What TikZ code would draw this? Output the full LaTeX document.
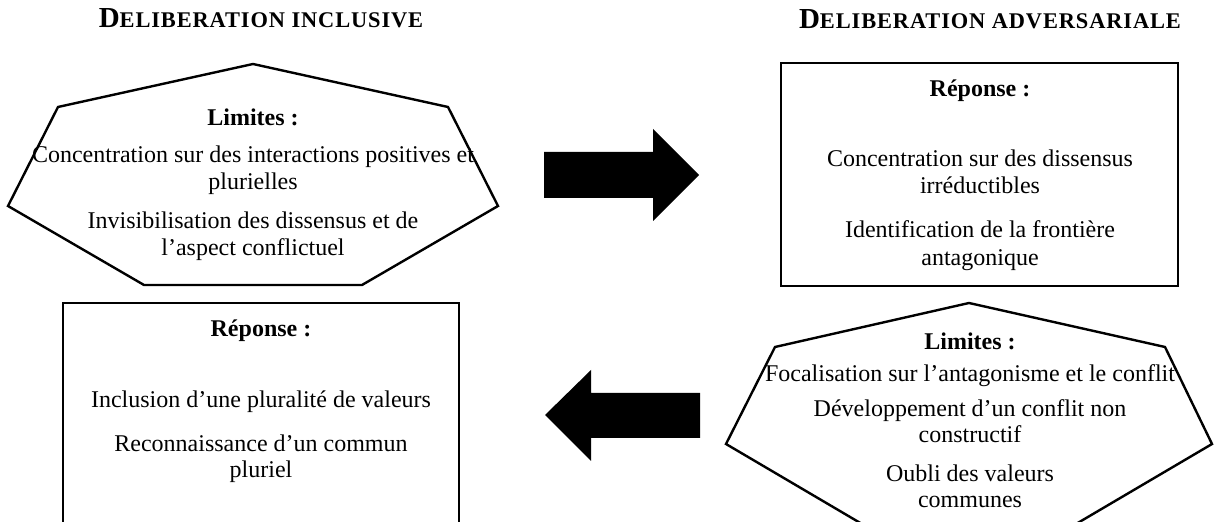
\documentclass[tikz,border=0pt]{standalone}
\usepackage{fontspec}
\setmainfont{Liberation Serif}
\newfontfamily\titlefont[LetterSpace=4]{Liberation Serif}
\begin{document}
\begin{tikzpicture}[x=0.5pt,y=-0.5pt,
  body/.style={anchor=base,inner sep=0pt,font=\fontsize{12}{14}\selectfont},
  head/.style={body,font=\fontsize{12}{14}\selectfont\bfseries},
  ttl/.style={anchor=base,inner sep=0pt,font=\bfseries},
  frame/.style={draw=black,line width=1.2pt,line join=miter},
  bigarrow/.style={fill=black,draw=none}]
\useasboundingbox (0,0) rectangle (1230,522);
\clip (0,0) rectangle (1230,522);

% titles
\node[ttl] (titleL) at (261,28) {{\fontsize{14.5}{16}\selectfont D}{\titlefont\bfseries\fontsize{11.2}{12}\selectfont ELIBERATION INCLUSIVE}};
\node[ttl] (titleR) at (990,29) {{\fontsize{14.5}{16}\selectfont D}{\titlefont\bfseries\fontsize{11.2}{12}\selectfont ELIBERATION ADVERSARIALE}};

% upper-left heptagon
\draw[frame] (253,64) -- (448,107) -- (498,206) -- (362,285) -- (144,285) -- (8,206) -- (58,107) -- cycle;
\node[head] (limL) at (253,126) {Limites :};
\node[body] (l1) at (253,163) {Concentration sur des interactions positives et};
\node[body] (l2) at (253,190) {plurielles};
\node[body] (l3) at (253,229) {Invisibilisation des dissensus et de};
\node[body] (l4) at (253,256) {l’aspect conflictuel};

% upper-right box
\draw[frame] (781,63) rectangle (1178,286);
\node[head] (repR) at (980,97) {Réponse :};
\node[body] (r1) at (980,167) {Concentration sur des dissensus};
\node[body] (r2) at (980,194) {irréductibles};
\node[body] (r3) at (980,238) {Identification de la frontière};
\node[body] (r4) at (980,266) {antagonique};

% lower-left box (cut by the lower edge)
\draw[frame] (63,530) -- (63,303) -- (459,303) -- (459,530);
\node[head] (repL) at (261,337) {Réponse :};
\node[body] (q1) at (261,408) {Inclusion d’une pluralité de valeurs};
\node[body] (q2) at (261,452) {Reconnaissance d’un commun};
\node[body] (q3) at (261,478) {pluriel};

% lower-right heptagon (cut by the lower edge)
\draw[frame] (969,303) -- (1165,347) -- (1212,444) -- (1076,524) -- (862,524) -- (726,444) -- (775,347) -- cycle;
\node[head] (limR) at (970,350) {Limites :};
\node[body] (m1) at (970,382) {Focalisation sur l’antagonisme et le conflit};
\node[body] (m2) at (970,417) {Développement d’un conflit non};
\node[body] (m3) at (970,443) {constructif};
\node[body] (m4) at (970,482) {Oubli des valeurs};
\node[body] (m5) at (970,508) {communes};

% block arrows
\fill[bigarrow] (544,152) -- (653,152) -- (653,129) -- (699,175) -- (653,221) -- (653,198) -- (544,198) -- cycle;
\fill[bigarrow] (545,415) -- (591,370) -- (591,393) -- (700,393) -- (700,438) -- (591,438) -- (591,461) -- cycle;
\end{tikzpicture}
\end{document}
